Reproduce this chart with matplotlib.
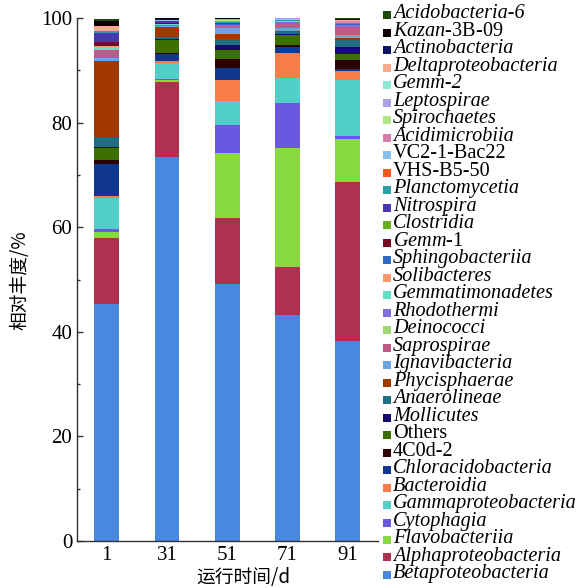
import numpy as np
import matplotlib.pyplot as plt
from matplotlib.patches import Rectangle
from matplotlib.ticker import MultipleLocator

plt.rcParams['font.family'] = ['Liberation Serif', 'Noto Sans CJK SC']
plt.rcParams['mathtext.fontset'] = 'custom'
plt.rcParams['mathtext.rm'] = 'Liberation Serif'
plt.rcParams['mathtext.it'] = 'Liberation Serif:italic'

days = ['1', '31', '51', '71', '91']

# relative abundance (%) of each class, one value per sampling day
betaproteobacteria = [45.4, 73.5, 49.2, 43.3, 38.3]
alphaproteobacteria = [12.6, 14.3, 12.5, 9.0, 30.3]
flavobacteriia = [1.1, 0.4, 12.4, 22.9, 8.2]
cytophagia = [0.6, 0.15, 5.5, 8.6, 0.7]
gammaproteobacteria = [5.9, 3.1, 4.5, 4.8, 10.7]
bacteroidia = [0.4, 0.25, 4.0, 4.8, 1.6]
chloracidobacteria = [6.1, 1.5, 2.3, 1.0, 0.4]
c4c0d_2 = [0.8, 0.2, 1.7, 0.4, 1.7]
others = [2.3, 2.3, 1.7, 1.9, 1.3]
mollicutes = [0.1, 0.2, 1.1, 0.2, 1.2]
anaerolineae = [1.9, 0.5, 1.1, 0.4, 1.3]
phycisphaerae = [14.5, 1.8, 1.0, 0.2, 0.4]
ignavibacteria = [0.6, 0.25, 1.0, 0.6, 0.7]
saprospirae = [1.6, 0.2, 0.5, 1.0, 1.5]
deinococci = [0.03, 0.05, 0.05, 0.03, 0.05]
rhodothermi = [0.03, 0.05, 0.1, 0.15, 0.3]
gemmatimonadetes = [0.4, 0.05, 0.05, 0.03, 0.05]
solibacteres = [0.2, 0.03, 0.03, 0.03, 0.03]
sphingobacteriia = [0.03, 0.03, 0.05, 0.03, 0.05]
gemm_1 = [0.8, 0.15, 0.05, 0.03, 0.03]
clostridia = [0.03, 0.05, 0.05, 0.03, 0.03]
nitrospira = [1.7, 0.3, 0.1, 0.05, 0.1]
planctomycetia = [0.3, 0.05, 0.2, 0.05, 0.05]
vhs_b5_50 = [0.03, 0.03, 0.05, 0.03, 0.03]
vc2_1_bac22 = [0.03, 0.1, 0.1, 0.2, 0.05]
acidimicrobiia = [0.03, 0.03, 0.15, 0.03, 0.1]
spirochaetes = [0.03, 0.03, 0.15, 0.03, 0.03]
leptospirae = [0.03, 0.03, 0.1, 0.1, 0.15]
gemm_2 = [0.03, 0.03, 0.05, 0.03, 0.05]
deltaproteobacteria = [0.8, 0.05, 0.05, 0.03, 0.25]
actinobacteria = [0.03, 0.1, 0.05, 0.05, 0.2]
kazan_3b_09 = [1.0, 0.15, 0.05, 0.03, 0.05]
acidobacteria_6 = [0.4, 0.2, 0.2, 0.2, 0.25]

# stacking order, bottom to top
names = ['Betaproteobacteria', 'Alphaproteobacteria', 'Flavobacteriia', 'Cytophagia',
         'Gammaproteobacteria', 'Bacteroidia', 'Chloracidobacteria', '4C0d-2', 'Others',
         'Mollicutes', 'Anaerolineae', 'Phycisphaerae', 'Ignavibacteria', 'Saprospirae',
         'Deinococci', 'Rhodothermi', 'Gemmatimonadetes', 'Solibacteres', 'Sphingobacteriia',
         'Gemm-1', 'Clostridia', 'Nitrospira', 'Planctomycetia', 'VHS-B5-50', 'VC2-1-Bac22',
         'Acidimicrobiia', 'Spirochaetes', 'Leptospirae', 'Gemm-2', 'Deltaproteobacteria',
         'Actinobacteria', 'Kazan-3B-09', 'Acidobacteria-6']
layers = [betaproteobacteria, alphaproteobacteria, flavobacteriia, cytophagia,
          gammaproteobacteria, bacteroidia, chloracidobacteria, c4c0d_2, others,
          mollicutes, anaerolineae, phycisphaerae, ignavibacteria, saprospirae,
          deinococci, rhodothermi, gemmatimonadetes, solibacteres, sphingobacteriia,
          gemm_1, clostridia, nitrospira, planctomycetia, vhs_b5_50, vc2_1_bac22,
          acidimicrobiia, spirochaetes, leptospirae, gemm_2, deltaproteobacteria,
          actinobacteria, kazan_3b_09, acidobacteria_6]
colors = ['#4888e0', '#b03050', '#88d840', '#6a58e0',
          '#50d0c8', '#f87c48', '#103890', '#300000', '#3b7000',
          '#180870', '#206e80', '#a03800', '#6aa6e6', '#c05888',
          '#a0d878', '#8070e0', '#60e0c8', '#f89870', '#3068c8',
          '#7a0820', '#68b018', '#4838b0', '#30a0a8', '#f85818', '#88c0ec',
          '#d480a8', '#b0e888', '#a8a0e8', '#8ae8d8', '#f8ab90',
          '#0c1660', '#0d0000', '#1b4a0c']

upright = {'VC2-1-Bac22', 'VHS-B5-50', 'Others', '4C0d-2'}
mixed = {'Kazan-3B-09': r'$\mathit{Kazan}$-3B-09', 'Gemm-1': r'$\mathit{Gemm}$-1'}

W, H = 579, 588
fig = plt.figure(figsize=(W / 100, H / 100), dpi=100)
ax = fig.add_axes([77 / W, 1 - 541 / H, (378 - 77) / W, (541 - 18) / H])

x = np.arange(len(days))
bottom = np.zeros(len(days))
for vals, c in zip(layers, colors):
    ax.bar(x, vals, width=0.41, bottom=bottom, color=c, linewidth=0)
    bottom += np.array(vals)

ax.set_xlim(-0.49, 4.5)
ax.set_ylim(0, 100)
ax.set_xticks(x)
ax.set_xticklabels(days)
ax.yaxis.set_major_locator(MultipleLocator(20))
ax.yaxis.set_minor_locator(MultipleLocator(10))
ax.tick_params(axis='y', which='major', direction='in', length=4, width=1,
               color='#333333', labelsize=15, pad=3.4)
ax.tick_params(axis='y', which='minor', direction='in', length=2.5, width=1, color='#333333')
ax.tick_params(axis='x', length=0, labelsize=15, pad=3.5)
for side in ['top', 'right']:
    ax.spines[side].set_visible(False)
for side in ['left', 'bottom']:
    ax.spines[side].set_color('#333333')
    ax.spines[side].set_linewidth(1)

fig.text(20 / W, 1 - 280 / H, '相对丰度/%', rotation=90, ha='center', va='center',
         family=['Noto Sans CJK SC', 'DejaVu Sans'], fontsize=13.5)
fig.text(243 / W, 1 - 578 / H, '运行时间/d', ha='center', va='center',
         family=['Noto Sans CJK SC', 'DejaVu Sans'], fontsize=13.5)

# legend, top entry is the top of the stack
step = 17.49
for i, (name, c) in enumerate(zip(names[::-1], colors[::-1])):
    base = 18.5 + i * step
    fig.patches.append(Rectangle((383 / W, 1 - (base + 0.8) / H), 8 / W, 8 / H,
                                 transform=fig.transFigure, color=c, linewidth=0))
    label = mixed.get(name, name)
    style = 'normal' if (name in upright or name in mixed) else 'italic'
    fig.text(393 / W, 1 - base / H, label, fontsize=14.6, style=style, va='baseline')

fig.savefig('out.png', dpi=100)
